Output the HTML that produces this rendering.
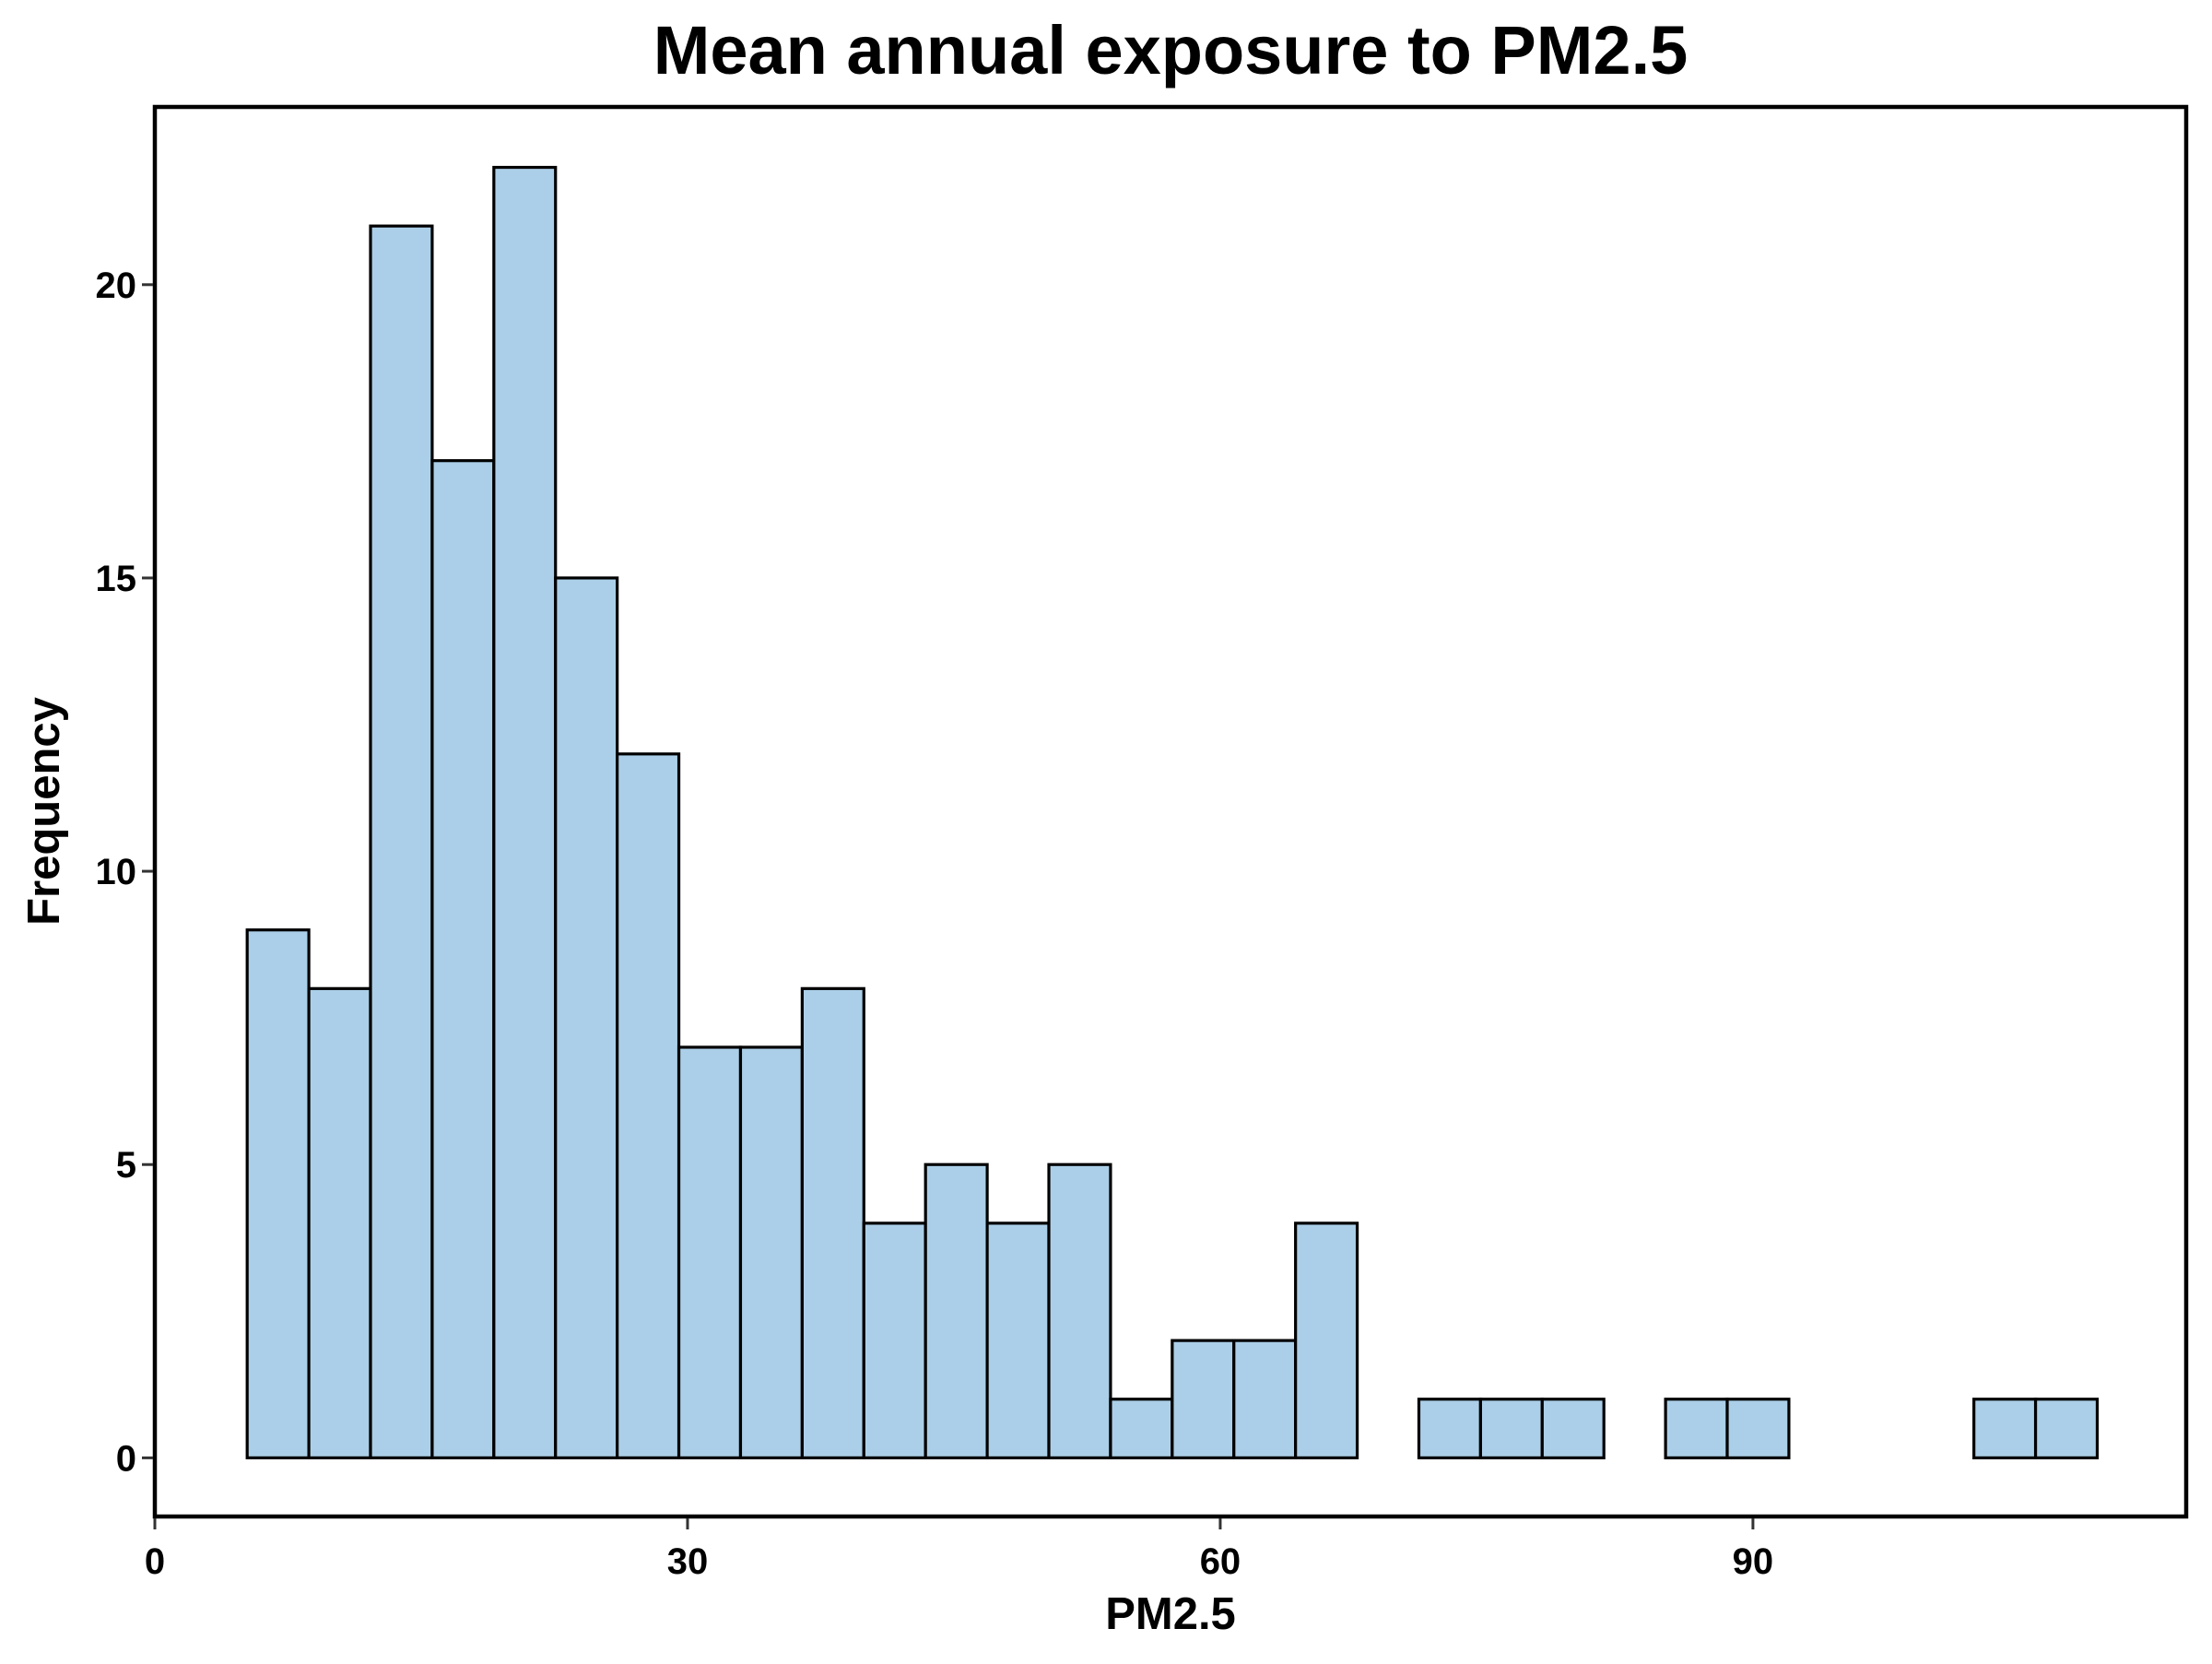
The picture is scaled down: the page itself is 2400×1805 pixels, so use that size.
<!DOCTYPE html>
<html><head><meta charset="utf-8"><style>
html,body{margin:0;padding:0;background:#fff;}
svg text{font-family:"Liberation Sans",Arial,sans-serif;font-weight:bold;fill:#000;}
</style></head><body>
<svg id="chart" width="2400" height="1800" viewBox="0 0 2400 1800" xmlns="http://www.w3.org/2000/svg">
<text x="1270" y="80" font-size="74" text-anchor="middle">Mean annual exposure to PM2.5</text>
<g id="bars"></g>
<rect x="168" y="116" width="2204" height="1529" fill="none" stroke="#000" stroke-width="4.5"/>
<g id="axes"></g>
<text x="1270" y="1767" font-size="49" text-anchor="middle">PM2.5</text>
<text transform="translate(64,880) rotate(-90)" font-size="49" text-anchor="middle">Frequency</text>
</svg>
<script>
const binStart = 5.2;
const binWidth = 3.473;
const counts = [9,8,21,17,22,15,12,7,7,8,4,5,4,5,1,2,2,4,0,1,1,1,0,1,1,0,0,0,1,1];
const xTicks = [0,30,60,90];
const yTicks = [0,5,10,15,20];
const L=168,R=2372,T=116,B=1645;
const xMin=0,xMax=114.4,yMin=-1,yMax=23.03;
function xs(v){return L+(v-xMin)/(xMax-xMin)*(R-L);}
function ys(v){return B-(v-yMin)/(yMax-yMin)*(B-T);}
const NS="http://www.w3.org/2000/svg";
const bars=document.getElementById('bars');
counts.forEach((c,i)=>{
  const x0=xs(binStart+i*binWidth), x1=xs(binStart+(i+1)*binWidth);
  const r=document.createElementNS(NS,'rect');
  r.setAttribute('x',x0);r.setAttribute('width',x1-x0);
  r.setAttribute('y',ys(c));r.setAttribute('height',ys(0)-ys(c));
  r.setAttribute('fill','#abcfe8');r.setAttribute('stroke','#000');r.setAttribute('stroke-width','3.2');
  
  
  bars.appendChild(r);
});
const axes=document.getElementById('axes');
xTicks.forEach(t=>{
  const l=document.createElementNS(NS,'line');
  l.setAttribute('x1',xs(t));l.setAttribute('x2',xs(t));l.setAttribute('y1',B+2);l.setAttribute('y2',B+14);
  l.setAttribute('stroke','#333');l.setAttribute('stroke-width','3');
  
  
  axes.appendChild(l);
  const tx=document.createElementNS(NS,'text');
  tx.setAttribute('x',xs(t));tx.setAttribute('y',B+62);tx.setAttribute('font-size','40');tx.setAttribute('text-anchor','middle');
  tx.textContent=t;
  
  
  axes.appendChild(tx);
});
yTicks.forEach(t=>{
  const l=document.createElementNS(NS,'line');
  l.setAttribute('x1',L-14);l.setAttribute('x2',L-2);l.setAttribute('y1',ys(t));l.setAttribute('y2',ys(t));
  l.setAttribute('stroke','#333');l.setAttribute('stroke-width','3');
  
  
  axes.appendChild(l);
  const tx=document.createElementNS(NS,'text');
  tx.setAttribute('x',L-20);tx.setAttribute('y',ys(t)+14);tx.setAttribute('font-size','40');tx.setAttribute('text-anchor','end');
  tx.textContent=t;
  
  
  axes.appendChild(tx);
});
</script>
</body></html>
